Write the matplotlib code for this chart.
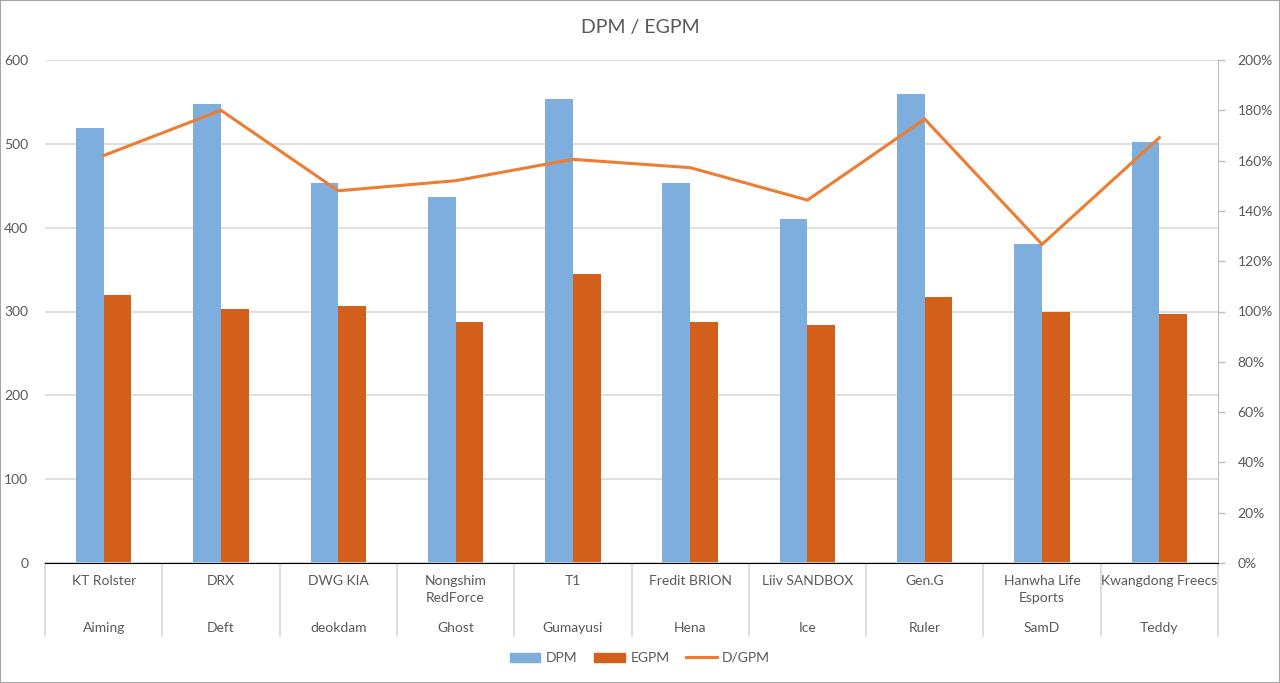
import matplotlib
matplotlib.use("Agg")
import matplotlib.pyplot as plt
import matplotlib.transforms as mtransforms
import matplotlib.patches as mpatches
import numpy as np

plt.rcParams['font.family'] = ['Lato', 'DejaVu Sans']

# --- Data ---
teams = ["KT Rolster", "DRX", "DWG KIA", "Nongshim\nRedForce", "T1",
         "Fredit BRION", "Liiv SANDBOX", "Gen.G", "Hanwha Life\nEsports", "Kwangdong Freecs"]
players = ["Aiming", "Deft", "deokdam", "Ghost", "Gumayusi",
           "Hena", "Ice", "Ruler", "SamD", "Teddy"]
dpm = [519, 547, 453, 437, 554, 453, 410, 560, 381, 502]
egpm = [320, 303, 306, 287, 345, 288, 284, 317, 300, 297]
dgpm = [1.62, 1.80, 1.48, 1.52, 1.605, 1.572, 1.443, 1.765, 1.267, 1.691]

BLUE = "#7EAEDD"
ORANGE = "#D2601A"
LINE = "#ED7D31"
GRID = "#D9D9D9"
TEXT = "#595959"

fig = plt.figure(figsize=(12.8, 6.83), dpi=100)
ax = fig.add_axes([45 / 1280, 1 - 563 / 683, (1218 - 45) / 1280, (563 - 60) / 683])
ax2 = ax.twinx()

x = np.arange(len(teams)) + 0.5
w = 0.236
ax.bar(x - w / 2, dpm, width=w, color=BLUE, label="DPM", zorder=2)
ax.bar(x + w / 2, egpm, width=w, color=ORANGE, label="EGPM", zorder=2)
ln, = ax2.plot(x, dgpm, color=LINE, lw=2.2, label="D/GPM", solid_joinstyle="miter")

ax.set_xlim(0, len(teams))
ax.set_ylim(0, 600)
ax.set_yticks(range(0, 601, 100))
ax.yaxis.grid(True, color=GRID, lw=1.2, zorder=0)
ax.set_axisbelow(True)
ax.tick_params(axis="y", length=0, pad=12, labelsize=10, labelcolor=TEXT)
ax.set_xticks([])

ax2.set_ylim(0, 2.0)
ax2.set_yticks(np.arange(0, 2.01, 0.2))
ax2.set_yticklabels([f"{int(round(v * 100))}%" for v in np.arange(0, 2.01, 0.2)])
ax2.tick_params(axis="y", length=5, width=1, color="#BFBFBF", pad=9, labelsize=10, labelcolor=TEXT)

for a in (ax, ax2):
    for s in ("top", "left", "right"):
        a.spines[s].set_visible(False)
ax2.spines["right"].set_visible(True)
ax2.spines["right"].set_color("#BFBFBF")
ax.spines["bottom"].set_color(GRID)
ax.spines["bottom"].set_linewidth(1.2)

# two-level category axis
trans = mtransforms.blended_transform_factory(ax.transData, ax.transAxes)
for i in range(len(teams) + 1):
    ax.plot([i, i], [0, -0.145], transform=trans, color=GRID, lw=1.2, clip_on=False)
for xi, t, p in zip(x, teams, players):
    ax.text(xi, -0.024, t, transform=trans, ha="center", va="top", fontsize=10,
            color=TEXT, linespacing=1.5)
    ax.text(xi, -0.13, p, transform=trans, ha="center", va="center", fontsize=10, color=TEXT)

fig.text(0.5, 1 - 28 / 683, "DPM / EGPM", ha="center", va="center", fontsize=14, color=TEXT)

handles = [mpatches.Patch(color=BLUE, label="DPM"),
           mpatches.Patch(color=ORANGE, label="EGPM"), ln]
fig.legend(handles=handles, loc="center", bbox_to_anchor=(0.5, 1 - 658 / 683), ncol=3,
           frameon=False, fontsize=10, labelcolor=TEXT, handlelength=2.2, handleheight=0.6,
           columnspacing=1.2, handletextpad=0.4)

fig.patches.append(mpatches.Rectangle((0, 0), 1, 1, transform=fig.transFigure, fill=False,
                                      edgecolor="#A6A6A6", lw=1.5))

fig.savefig("out.png", dpi=100)
